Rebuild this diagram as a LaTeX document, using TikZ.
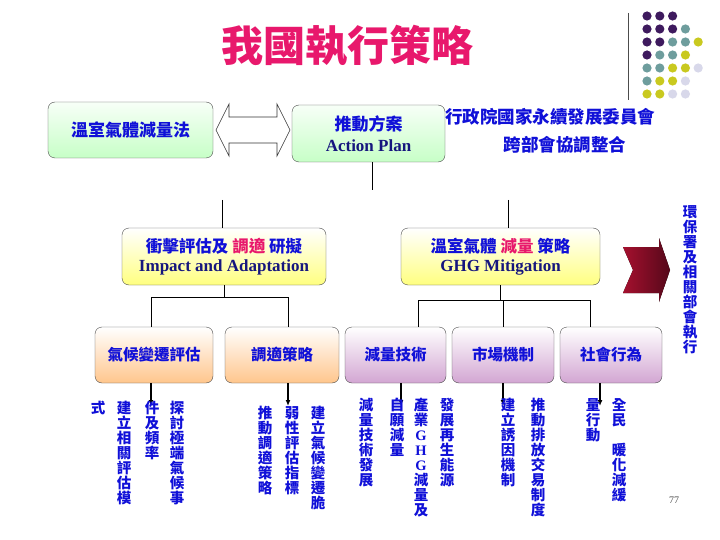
\documentclass[tikz,border=0pt]{standalone}
\usepackage{fontspec}
\setmainfont{Liberation Serif}
\newfontfamily\cjk{Noto Sans CJK TC}
\usetikzlibrary{positioning, arrows.meta}

\definecolor{titlepink}{HTML}{E8186C}
\definecolor{txtblue}{HTML}{1010D8}
\definecolor{engblue}{HTML}{16167E}
\definecolor{dotP}{HTML}{3E1A5E}
\definecolor{dotT}{HTML}{6E9D9D}
\definecolor{dotY}{HTML}{C9C91F}
\definecolor{dotL}{HTML}{D8D8EA}
\definecolor{redA}{HTML}{A5102E}
\definecolor{redB}{HTML}{55081A}

% stack the characters of #1 one under the other
\makeatletter
\newcommand\vstack[1]{\vbox{\offinterlineskip\vstack@#1\@nil}}
\def\vstack@#1{\ifx#1\@nil\else\hbox to 1em{\hss\vrule height .88em depth .12em width 0pt\relax#1\hss}\kern.5pt\expandafter\vstack@\fi}
\makeatother

\begin{document}
\begin{tikzpicture}[x=1pt, y=-1pt,
    box/.style={draw=black!70, rounded corners=7pt, inner sep=0pt,
                align=center, text=txtblue},
    lawbox/.style={box, top color=green!3, bottom color=green!22},
    goalbox/.style={box, top color=white, bottom color=yellow!50},
    adaptbox/.style={box, top color=white, bottom color=orange!45},
    mitibox/.style={box, top color=white, bottom color=violet!35},
    zh/.style={font=\cjk\bfseries\fontsize{17}{20}\selectfont, text=txtblue},
    zhsmall/.style={font=\cjk\bfseries\fontsize{15.5}{18}\selectfont},
    vtext/.style={anchor=north, inner sep=0pt, text=txtblue,
                  font=\cjk\bfseries\fontsize{14.5}{15}\selectfont},
    link/.style={draw=black, line width=0.8pt},
    arrow/.style={-{Latex[length=6pt,width=5pt]}, line width=1.2pt}
]
\fill[white] (0,0) rectangle (720,540);
\useasboundingbox (0,0) rectangle (720,540);

% title and corner decoration
\node[font=\cjk\bfseries\fontsize{42}{42}\selectfont, text=titlepink] (title) at (347,46) {我國執行策略};
\draw[black!70, line width=0.8pt] (628,13) -- (628,100);
\foreach \row/\list in {16/{P,P,P}, 29/{P,P,P,T}, 42/{P,P,T,T,Y}, 55/{P,T,T,Y},
                        68/{T,T,Y,Y,L}, 81/{T,Y,Y,L}, 94/{Y,Y,L,L}}
  \foreach \c [count=\i from 0] in \list
    \fill[fill=dot\c] (647+12.8*\i, \row) circle (4.6);

% top row
\node[lawbox, minimum width=165, minimum height=56, zh] (law) at (130.5,130) {溫室氣體減量法};
\node[lawbox, minimum width=153, minimum height=57] (plan) at (368.5,133.5)
  {{\cjk\bfseries\fontsize{17}{20}\selectfont 推動方案}\\[6pt]{\color{engblue}\bfseries\fontsize{17}{20}\selectfont Action Plan}};
\filldraw[fill=white, draw=black!80, line width=0.6pt]
  (216,130) -- (229,104) -- (229,117) -- (277,117) -- (277,104) -- (290,130)
  -- (277,156) -- (277,143) -- (229,143) -- (229,156) -- cycle;
\node[zh, font=\cjk\bfseries\fontsize{17.5}{20}\selectfont] (council) at (550,117) {行政院國家永續發展委員會};
\node[zh, font=\cjk\bfseries\fontsize{17.5}{20}\selectfont] (coord) at (565,145) {跨部會協調整合};

% second row
\node[goalbox, minimum width=204, minimum height=57] (impact) at (224,256.5)
  {{\cjk\bfseries\fontsize{16.5}{20}\selectfont 衝擊評估及 \textcolor{titlepink}{調適} 研擬}\\[4pt]{\color{engblue}\bfseries\fontsize{17}{20}\selectfont Impact and Adaptation}};
\node[goalbox, minimum width=199, minimum height=57] (mitigation) at (500.5,256.5)
  {{\cjk\bfseries\fontsize{16.5}{20}\selectfont 溫室氣體 \textcolor{titlepink}{減量} 策略}\\[4pt]{\color{engblue}\bfseries\fontsize{17}{20}\selectfont GHG Mitigation}};

% third row
\node[adaptbox, minimum width=118, minimum height=56, zhsmall] (assess) at (154,355) {氣候變遷評估};
\node[adaptbox, minimum width=114, minimum height=56, zhsmall] (strategy) at (282,355) {調適策略};
\node[mitibox, minimum width=101, minimum height=56, zhsmall] (tech) at (395.5,355) {減量技術};
\node[mitibox, minimum width=102, minimum height=56, zhsmall] (market) at (503,355) {市場機制};
\node[mitibox, minimum width=102, minimum height=56, zhsmall] (social) at (611,355) {社會行為};

% big arrow and its text
\fill[left color=redA, right color=redB] (623,247) -- (659,247) -- (659,238) -- (670,270)
  -- (659,302) -- (659,293) -- (623,293) -- (633,270) -- cycle;
\node[vtext, font=\cjk\bfseries\fontsize{14.5}{15}\selectfont] (epa) at (690,205) {\vstack{環保署及相關部會執行}};

% connectors
\coordinate (planLow) at (372,190);
\draw[link] (plan.south -| planLow) -- (planLow);
\coordinate (impHigh) at (222,200);
\draw[link] (impHigh) -- (impHigh |- impact.north);
\coordinate (mitHigh) at (508,200);
\draw[link] (mitHigh) -- (mitHigh |- mitigation.north);

\coordinate (jL1) at (151,297);
\coordinate (jL2) at (288,297);
\draw[link] (impact.south) -- (impact.south |- jL1);
\draw[link] (assess.north -| jL1) -- (jL1) -- (jL2) -- (jL2 |- strategy.north);

\coordinate (jR1) at (418,300);
\coordinate (jR2) at (590,300);
\draw[link] (mitigation.south) -- (mitigation.south |- jR1);
\draw[link] (tech.north -| jR1) -- (jR1) -- (jR2) -- (jR2 |- social.north);
\draw[link] (market.north) -- (market.north |- jR1);

\coordinate (tip1) at (151,406);
\coordinate (tip2) at (288,406);
\coordinate (tip3) at (401,406);
\coordinate (tip4) at (503,406);
\coordinate (tip5) at (600,406);
\foreach \b/\t in {assess/tip1, strategy/tip2, tech/tip3, market/tip4, social/tip5}
  \draw[arrow] (\b.south -| \t) -- (\t);

% vertical texts
\node[vtext] (a1) at (177,401) {\vstack{探討極端氣候事}};
\node[vtext] (a2) at (152,401) {\vstack{件及頻率}};
\node[vtext] (a3) at (124,401) {\vstack{建立相關評估模}};
\node[vtext] (a4) at (98,401) {\vstack{式}};

\node[vtext] (s1) at (318,406) {\vstack{建立氣候變遷脆}};
\node[vtext] (s2) at (292,406) {\vstack{弱性評估指標}};
\node[vtext] (s3) at (265,406) {\vstack{推動調適策略}};

\node[vtext] (t1) at (447,398) {\vstack{發展再生能源}};
\node[vtext] (t2) at (421,398) {\vstack{產業{\rmfamily G}{\rmfamily H}{\rmfamily G}減量及}};
\node[vtext] (t3) at (397,398) {\vstack{自願減量}};
\node[vtext] (t4) at (366,398) {\vstack{減量技術發展}};

\node[vtext] (m1) at (538,398) {\vstack{推動排放交易制度}};
\node[vtext] (m2) at (508,398) {\vstack{建立誘因機制}};

\node[vtext] (c1) at (619,398) {\vstack{全民\quad 暖化減緩}};
\node[vtext] (c2) at (593,398) {\vstack{量行動}};

\node[font=\fontsize{10}{10}\selectfont, text=black!70] (pagenum) at (674,500) {77};
\end{tikzpicture}
\end{document}
